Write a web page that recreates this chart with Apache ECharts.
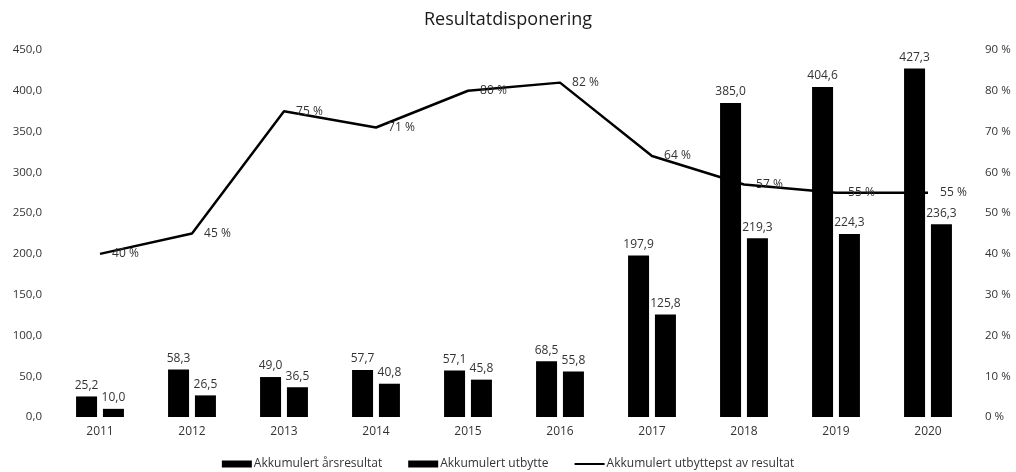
<!DOCTYPE html>
<html>
<head>
<meta charset="utf-8">
<script src="https://cdn.jsdelivr.net/npm/echarts@6/dist/echarts.min.js"></script>
<style>html,body{margin:0;padding:0;background:#fff}#c{width:1016px;height:472px}</style>
</head>
<body>
<div id="c"></div>
<script>
const categories = ['2011','2012','2013','2014','2015','2016','2017','2018','2019','2020'];
const arsresultat = [25.2, 58.3, 49.0, 57.7, 57.1, 68.5, 197.9, 385.0, 404.6, 427.3];
const utbytte = [10.0, 26.5, 36.5, 40.8, 45.8, 55.8, 125.8, 219.3, 224.3, 236.3];
const utbytteProsent = [40, 45, 75, 71, 80, 82, 64, 57, 55, 55];
const seriesNames = ['Akkumulert årsresultat', 'Akkumulert utbytte', 'Akkumulert utbyttepst av resultat'];

const FONT = 'Open Sans';
const TXT = '#333';
const fmt1 = v => Number(v).toFixed(1).replace('.', ',');
const lineIcon = 'path://M0,0 L0.01,0 Z M0,2.6 L30,2.6 L30,4.6 L0,4.6 Z M30,7 L29.99,7 Z';

const chart = echarts.init(document.getElementById('c'), null, {renderer: 'canvas'});
chart.setOption({
  animation: false,
  backgroundColor: '#fff',
  textStyle: {fontFamily: FONT},
  title: {
    text: 'Resultatdisponering', left: 'center', top: 6,
    textStyle: {fontFamily: FONT, fontSize: 18, fontWeight: 'normal', color: '#1a1a1a'}
  },
  legend: {
    top: 457, left: 'center', padding: 0, itemGap: 26, itemWidth: 30, itemHeight: 7,
    textStyle: {fontFamily: FONT, fontSize: 12, lineHeight: 14, color: TXT, padding: [0,0,0,-3]},
    data: [
      {name: seriesNames[0], icon: 'rect'},
      {name: seriesNames[1], icon: 'rect'},
      {name: seriesNames[2], icon: lineIcon}
    ]
  },
  grid: {left: 54, right: 42, top: 50, bottom: 55, containLabel: false},
  xAxis: {
    type: 'category', data: categories,
    axisLine: {show: false}, axisTick: {show: false},
    axisLabel: {fontFamily: FONT, fontSize: 12, color: TXT, margin: 9}
  },
  yAxis: [
    {
      type: 'value', min: 0, max: 450, interval: 50,
      splitLine: {show: false}, axisLine: {show: false}, axisTick: {show: false},
      axisLabel: {fontFamily: FONT, fontSize: 11.5, color: TXT, margin: 12, formatter: fmt1}
    },
    {
      type: 'value', min: 0, max: 90, interval: 10, position: 'right',
      splitLine: {show: false}, axisLine: {show: false}, axisTick: {show: false},
      axisLabel: {fontFamily: FONT, fontSize: 11.5, color: TXT, margin: 11, formatter: v => v + ' %'}
    }
  ],
  series: [
    {
      name: seriesNames[0], type: 'bar', data: arsresultat, barWidth: 21, barGap: '28%',
      itemStyle: {color: '#000'},
      label: {show: true, position: 'top', distance: 5, fontFamily: FONT, fontSize: 12, color: TXT, formatter: p => fmt1(p.value)}
    },
    {
      name: seriesNames[1], type: 'bar', data: utbytte, barWidth: 21,
      itemStyle: {color: '#000'},
      label: {show: true, position: 'top', distance: 5, fontFamily: FONT, fontSize: 12, color: TXT, formatter: p => fmt1(p.value)}
    },
    {
      name: seriesNames[2], type: 'line', yAxisIndex: 1, data: utbytteProsent,
      symbol: 'circle', symbolSize: 0.1, showSymbol: true, z: 5,
      lineStyle: {color: '#000', width: 2.5},
      itemStyle: {color: '#000'},
      label: {show: true, position: 'right', distance: 12, fontFamily: FONT, fontSize: 12, color: TXT, formatter: p => p.value + ' %'}
    }
  ]
});
</script>
</body>
</html>
